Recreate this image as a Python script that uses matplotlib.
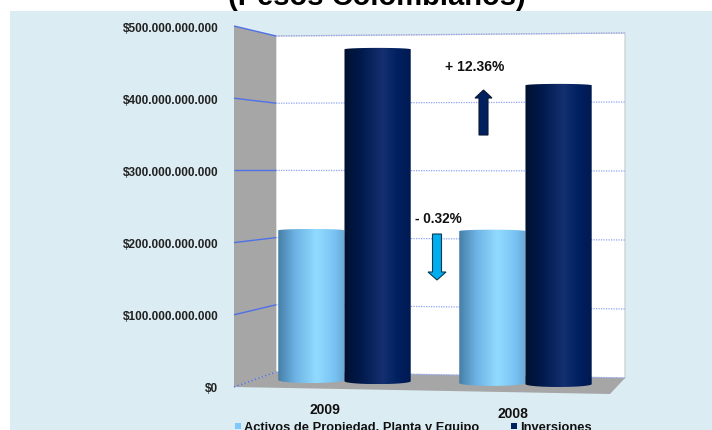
import numpy as np
import matplotlib
matplotlib.use("Agg")
import matplotlib.pyplot as plt
from matplotlib.colors import LinearSegmentedColormap
from matplotlib.patches import Polygon, PathPatch, Rectangle
from matplotlib.path import Path

years = ["2009", "2008"]
series_names = ["Activos de Propiedad, Planta y Equipo", "Inversiones"]
activos = [208e9, 211e9]
inversiones = [461e9, 415e9]
tick_values = [0, 100e9, 200e9, 300e9, 400e9, 500e9]
tick_labels = ["$0", "$100.000.000.000", "$200.000.000.000", "$300.000.000.000",
               "$400.000.000.000", "$500.000.000.000"]
title = "(Pesos Colombianos)"
note_up = "+ 12.36%"
note_down = "- 0.32%"

FONT = "Liberation Sans"
plt.rcParams["font.family"] = FONT
W, H = 712, 430
fig = plt.figure(figsize=(W / 100, H / 100), dpi=100, facecolor="white")

# pixel-space backdrop: panel and 3D walls
bg = fig.add_axes([0, 0, 1, 1], zorder=0)
bg.set_xlim(0, W); bg.set_ylim(H, 0); bg.axis("off")
bg.text(376.5, 5, title, ha="center", va="baseline", fontsize=21, fontweight="bold", color="black")
bg.add_patch(Rectangle((10, 11), W - 10, H - 11, fc="#dbedf3", ec="none", zorder=3))
wall_kw = dict(zorder=4)
bg.add_patch(Polygon([(276, 36), (625, 33), (625, 378), (276, 372)], fc="white", ec="#d0d3d6", lw=1, **wall_kw))
bg.add_patch(Polygon([(234, 26), (276, 36), (276, 372), (234, 387)], fc="#a6a6a6", ec="none", **wall_kw))
bg.add_patch(Polygon([(234, 387), (276, 372), (625, 378), (610, 394)], fc="#a6a6a6", ec="none", **wall_kw))

# interpolate each tick value across the wall corners
for v in tick_values:
    f = v / 500e9
    yl = 387 + (26 - 387) * f
    ym = 372 + (36 - 372) * f
    yr = 378 + (33 - 378) * f
    bg.plot([234, 276], [yl, ym], color="#4f70e8", lw=1.0, ls="-" if v else ":", solid_capstyle="butt", zorder=5)
    bg.plot([276, 625], [ym, yr], color="#8fa3f2", lw=0.9, ls=(0, (1, 1)), zorder=5)

# value axes
x0, x1 = 235, 625
y0, y1 = 387, 27
ax = fig.add_axes([x0 / W, 1 - y0 / H, (x1 - x0) / W, (y0 - y1) / H], zorder=1)
ax.patch.set_alpha(0)
xlim = (-0.605, 1.55)
ylim = (0, 500e9)
for s in ax.spines.values():
    s.set_visible(False)

dark = LinearSegmentedColormap.from_list("d", [(0, "#00102f"), (.25, "#001a4c"), (.58, "#14306f"),
                                               (.8, "#002060"), (1, "#001a50")])
light = LinearSegmentedColormap.from_list("l", [(0, "#467ea6"), (.25, "#6cb2e4"), (.58, "#92dbff"),
                                                (.85, "#78c2f4"), (1, "#6aa8d4")])
grad = np.linspace(0, 1, 128).reshape(1, -1)
bw = 0.366
ell = 4e9
floor_activos = [9.5e9, 5.5e9]      # tilt of the floor under each bar
floor_inversiones = [8e9, 4e9]


def cylinder(xc, val, base, cmap):
    top = base + val
    t = np.linspace(0, np.pi, 40)
    xs = xc + np.cos(t) * bw / 2
    upper = np.column_stack([xs, top + np.sin(t) * ell * 0.5])
    lower = np.column_stack([xs[::-1], base - np.sin(t) * ell])
    verts = np.vstack([upper, lower, upper[:1]])
    im = ax.imshow(grad, cmap=cmap, aspect="auto", extent=[xc - bw / 2, xc + bw / 2, base - ell, top + ell],
                   zorder=3, interpolation="bilinear")
    im.set_clip_path(PathPatch(Path(verts), transform=ax.transData))


for i in range(len(years)):
    cylinder(i - bw / 2, activos[i], floor_activos[i], light)
    cylinder(i + bw / 2, inversiones[i], floor_inversiones[i], dark)

ax.set_xlim(xlim); ax.set_ylim(ylim)
ax.set_yticks(tick_values, tick_labels, fontsize=8.5, fontweight="bold", color="#222222")
ax.tick_params(axis="y", length=0, pad=12)
ax.set_xticks([])

# category labels, slightly tilted floor
bg.text(325, 410, years[0], ha="center", va="center", fontsize=10, fontweight="bold", color="#111111", zorder=6)
bg.text(513, 414, years[1], ha="center", va="center", fontsize=10, fontweight="bold", color="#111111", zorder=6)

# legend, cut by the bottom edge as in the source
bg.add_patch(Rectangle((235, 423), 6, 6, fc="#7fc8fb", ec="none", zorder=6))
bg.add_patch(Rectangle((511, 423), 6, 6, fc="#002060", ec="none", zorder=6))
bg.text(244, 431, series_names[0], ha="left", va="baseline", fontsize=9.3, fontweight="bold", color="#111111", zorder=6)
bg.text(520, 431, series_names[1], ha="left", va="baseline", fontsize=9.3, fontweight="bold", color="#111111", zorder=6)

# overlay annotations
ov = fig.add_axes([0, 0, 1, 1], zorder=2)
ov.set_xlim(0, W); ov.set_ylim(H, 0); ov.axis("off")
ov.text(474.5, 67, note_up, ha="center", va="center", fontsize=10, fontweight="bold", color="#111111")
ov.text(438.5, 219, note_down, ha="center", va="center", fontsize=9.8, fontweight="bold", color="#111111")
ov.add_patch(Polygon([(479, 135), (488, 135), (488, 98), (492, 98), (483.5, 90), (475, 98), (479, 98)],
                     fc="#002060", ec="#0b1730", lw=0.8))
ov.add_patch(Polygon([(432.5, 234), (441.5, 234), (441.5, 272), (446, 272), (437, 280), (428, 272), (432.5, 272)],
                     fc="#00aeef", ec="#0b3a50", lw=0.8))

fig.savefig("out.png", dpi=100, facecolor="white")
